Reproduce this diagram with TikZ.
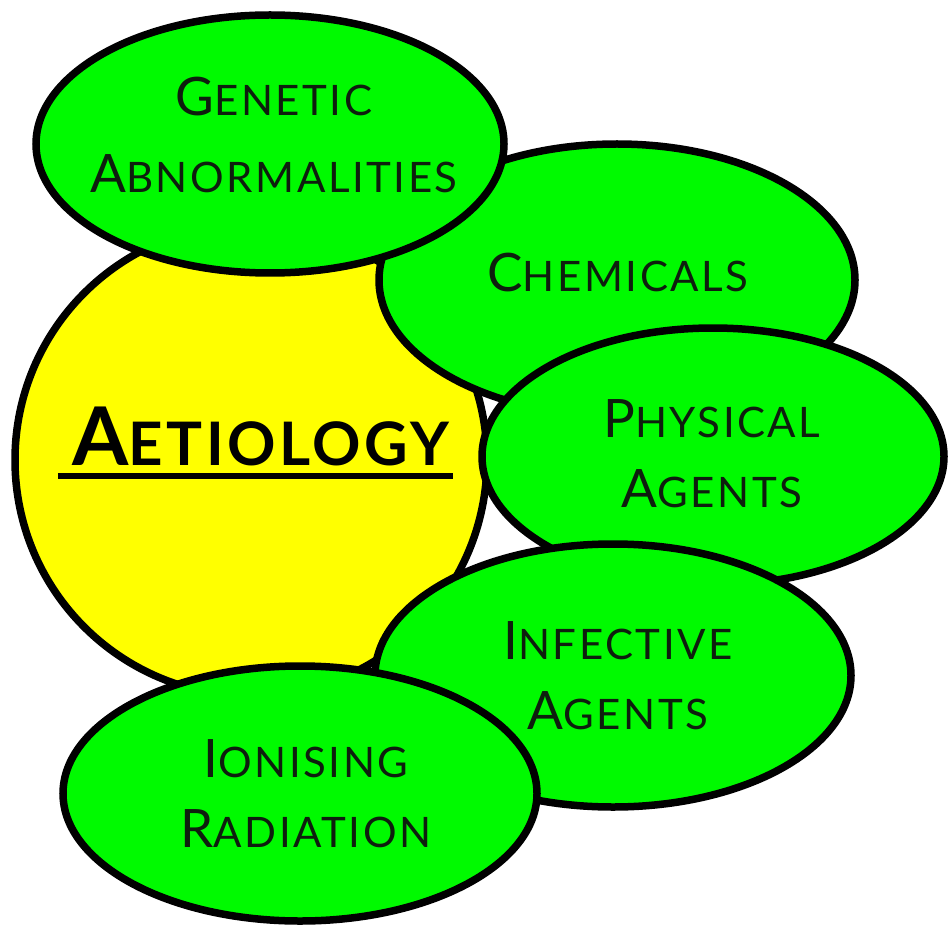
\documentclass[tikz,border=0pt]{standalone}
\usepackage{fontspec}
\setmainfont{Lato}[LetterSpace=6]
\usepackage{tikz}
\usetikzlibrary{shapes.geometric,calc}
\definecolor{leaf}{HTML}{00FA00}
\definecolor{sun} {HTML}{FFFF00}
\definecolor{ink} {HTML}{0E1E0E}
\newcommand{\capinit}[1]{{\fontsize{53}{70}\selectfont #1}}
\newcommand{\capinitbold}[1]{{\fontsize{81}{90}\selectfont #1}}

\begin{document}
\begin{tikzpicture}[x=1pt,y=1pt,
    cause/.style={ellipse, draw=black, line width=7.5pt, fill=leaf, inner sep=0pt},
    causetext/.style={align=center, inner sep=0pt, text=ink,
                      font=\fontsize{42}{70}\selectfont}]
  \useasboundingbox (0,0) rectangle (950,-933);
  % centre circle with the title
  \node[circle, draw=black, line width=7.5pt, fill=sun, minimum size=472pt] (aetio) at (251,-460) {};
  \node[inner sep=0pt, font=\bfseries\fontsize{60}{70}\selectfont] (aetio-t) at (261,-436)
    {\capinitbold{A}ETIOLOGY};
  \draw[line width=6pt] ($(aetio-t.base west)+(-14,-11)$) -- ($(aetio-t.base east)+(3,-11)$);
  % causes, back to front
  \node[cause, minimum width=476pt, minimum height=272pt] (chem) at (617,-280) {};
  \node[causetext] (chem-t) at (618,-272.5) {\capinit{C}HEMICALS};
  \node[cause, minimum width=468pt, minimum height=258pt] (genetic) at (270,-144) {};
  \node[causetext, font=\fontsize{42}{77}\selectfont] (genetic-t) at (274,-134.5)
    {\capinit{G}ENETIC\\\capinit{A}BNORMALITIES};
  \node[cause, minimum width=462pt, minimum height=257pt] (phys) at (713,-456.5) {};
  \node[causetext] (phys-t) at (712,-453.5) {\capinit{P}HYSICAL\\\capinit{A}GENTS};
  \node[cause, minimum width=476pt, minimum height=263pt] (infect) at (613,-675.5) {};
  \node[causetext] (infect-t) at (618,-676) {\capinit{I}NFECTIVE\\\capinit{A}GENTS};
  \node[cause, minimum width=474pt, minimum height=255pt] (ionis) at (300,-793.5) {};
  \node[causetext] (ionis-t) at (306,-793.5) {\capinit{I}ONISING\\\capinit{R}ADIATION};
\end{tikzpicture}
\end{document}
